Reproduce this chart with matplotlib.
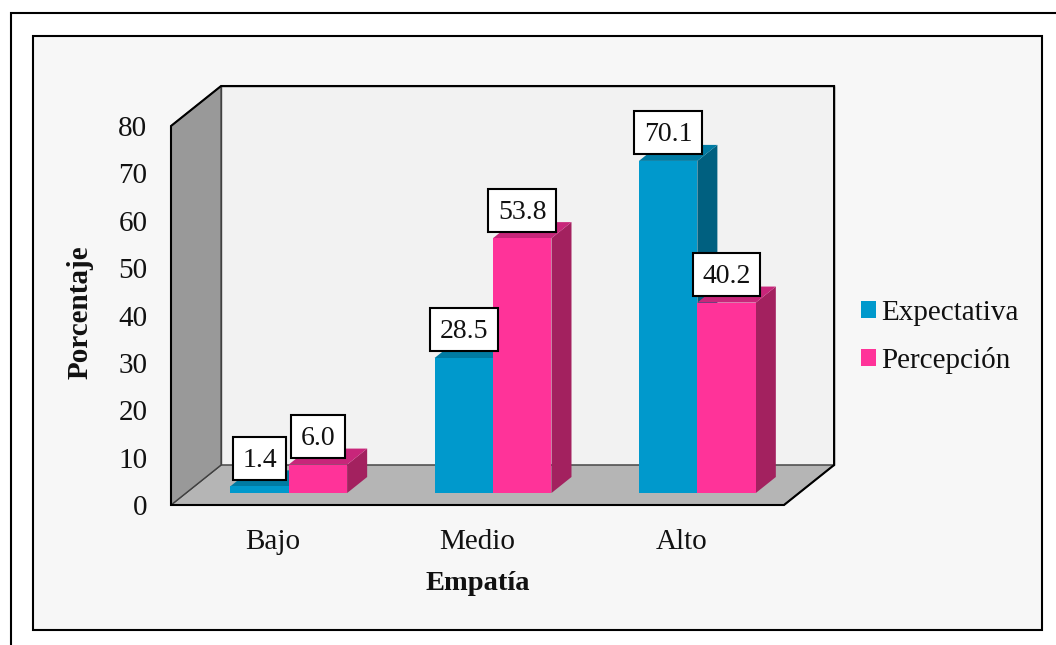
import matplotlib
matplotlib.use("Agg")
import matplotlib.pyplot as plt
from matplotlib.patches import Patch, Polygon, Rectangle
from matplotlib.path import Path


categories = ["Bajo", "Medio", "Alto"]
expectativa = [1.4, 28.5, 70.1]
percepcion = [6.0, 53.8, 40.2]
y_ticks = [0, 10, 20, 30, 40, 50, 60, 70, 80]

FIG_W, FIG_H = 1056, 645
FONT_SIZE = 21
BLUE = ("#0099cc", "#007ba3", "#006080")
PINK = ("#ff3399", "#c8267a", "#a3215f")
BAR_W = 0.286
# pseudo 3D offsets in data units
WALL_DX, WALL_DY = 0.245, 8.44
SHIFT_DX, SHIFT_DY = 0.076, 2.53
DEPTH_DX, DEPTH_DY = 0.098, 3.38

plt.rcParams["font.family"] = ["Liberation Serif", "DejaVu Serif"]


def px_rect(x0, y0, x1, y1, **kwargs):
    # rectangle given in image pixels, y going down
    return Rectangle((x0 / FIG_W, 1 - y1 / FIG_H), (x1 - x0) / FIG_W, (y1 - y0) / FIG_H,
                     transform=fig.transFigure, zorder=-1, **kwargs)


def label_box(x0, y0, width, height, mutation_size):
    # fixed height box, sits a bit above the text layout so the digits look centred
    pad_x = 9.5
    box_h = 43.0
    yc = y0 + height / 2 + 2
    left, right = x0 - pad_x, x0 + width + pad_x
    bottom, top = yc - box_h / 2, yc + box_h / 2
    return Path([(left, bottom), (right, bottom), (right, top), (left, top), (left, bottom)], closed=True)


def draw_box(ax, x0, x1, value, colors, z):
    # side and top faces, the front face is a regular bar
    front, top, side = colors[0], colors[1], colors[2]
    y0, y1 = SHIFT_DY, SHIFT_DY + value
    ax.add_patch(Polygon([(x1, y0), (x1 + DEPTH_DX, y0 + DEPTH_DY), (x1 + DEPTH_DX, y1 + DEPTH_DY), (x1, y1)],
                         facecolor=side, edgecolor="none", zorder=z, clip_on=False))
    ax.add_patch(Polygon([(x0, y1), (x0 + DEPTH_DX, y1 + DEPTH_DY), (x1 + DEPTH_DX, y1 + DEPTH_DY), (x1, y1)],
                         facecolor=top, edgecolor="none", zorder=z, clip_on=False))
    ax.bar(x0, value, width=x1 - x0, bottom=y0, align="edge", color=front, zorder=z + 0.5, clip_on=False)


fig = plt.figure(figsize=(FIG_W / 100, FIG_H / 100), dpi=100, facecolor="white")
fig.add_artist(px_rect(10.5, 12.5, 1100, 700, facecolor="white", edgecolor="black", linewidth=1.5))
fig.add_artist(px_rect(33, 36, 1042, 630, facecolor="#f7f7f7", edgecolor="black", linewidth=1.5))

ax = fig.add_axes([171 / FIG_W, 1 - 505 / FIG_H, 613 / FIG_W, 379 / FIG_H])
ax.patch.set_visible(False)
ax.set_xlim(-0.5, 2.5)
ax.set_ylim(0, 80)
for spine in ax.spines.values():
    spine.set_visible(False)

x_lo, x_hi = ax.get_xlim()
y_lo, y_hi = ax.get_ylim()
back = [(x_lo + WALL_DX, y_lo + WALL_DY), (x_hi + WALL_DX, y_lo + WALL_DY),
        (x_hi + WALL_DX, y_hi + WALL_DY), (x_lo + WALL_DX, y_hi + WALL_DY)]
wall = [(x_lo, y_lo), back[0], back[3], (x_lo, y_hi)]
floor = [(x_lo, y_lo), (x_hi, y_lo), back[1], back[0]]
outline = [(x_lo, y_lo), (x_hi, y_lo), back[1], back[2], back[3], (x_lo, y_hi)]
ax.add_patch(Polygon(back, facecolor="#f2f2f2", edgecolor="#404040", linewidth=1.0, zorder=1, clip_on=False))
ax.add_patch(Polygon(wall, facecolor="#999999", edgecolor="#404040", linewidth=1.0, zorder=1.2, clip_on=False))
ax.add_patch(Polygon(floor, facecolor="#b5b5b5", edgecolor="#404040", linewidth=1.0, zorder=1.1, clip_on=False))
ax.add_patch(Polygon(outline, closed=True, fill=False, edgecolor="black", linewidth=1.5, zorder=1.3, clip_on=False))

for i, e in enumerate(expectativa):
    mid = i + SHIFT_DX
    draw_box(ax, mid - BAR_W, mid, e, BLUE, 2)
for i, p in enumerate(percepcion):
    mid = i + SHIFT_DX
    draw_box(ax, mid, mid + BAR_W, p, PINK, 3)

for i, (e, p) in enumerate(zip(expectativa, percepcion)):
    mid = i + SHIFT_DX
    for xc, val in ((mid - BAR_W / 2, e), (mid + BAR_W / 2, p)):
        ax.annotate(f"{val:.1f}", (xc, SHIFT_DY + val), xytext=(0, 26), textcoords="offset pixels",
                    ha="center", va="center", fontsize=20, color="#111111", zorder=5,
                    bbox=dict(boxstyle=label_box, facecolor="white", edgecolor="black", linewidth=1.5))

ax.set_xticks(range(len(categories)), categories)
ax.set_yticks(y_ticks)
ax.tick_params(axis="both", length=0, labelsize=FONT_SIZE, colors="#111111")
ax.tick_params(axis="x", pad=17)
ax.tick_params(axis="y", pad=17)

fig.text(80 / FIG_W, 1 - 312 / FIG_H, "Porcentaje", rotation=90, ha="center", va="center",
         fontsize=FONT_SIZE, fontweight="bold", color="#111111")
fig.text(478 / FIG_W, 1 - 583 / FIG_H, "Empatía", ha="center", va="center",
         fontsize=20.5, fontweight="bold", color="#111111")

handles = [Patch(facecolor=BLUE[0], edgecolor="none"), Patch(facecolor=PINK[0], edgecolor="none")]
fig.legend(handles, ["Expectativa", "Percepción"], loc="center left",
           bbox_to_anchor=(861 / FIG_W, 1 - 337 / FIG_H), frameon=False, fontsize=FONT_SIZE,
           handlelength=0.52, handleheight=0.52, handletextpad=0.17, labelspacing=0.73,
           borderpad=0, borderaxespad=0, labelcolor="#111111")

fig.savefig("out.png", dpi=100)
